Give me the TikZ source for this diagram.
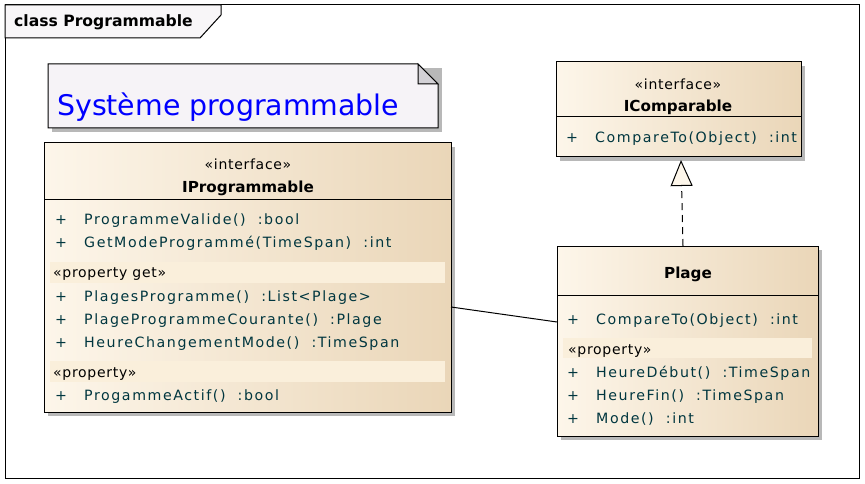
\documentclass[tikz,border=0pt]{standalone}
\usepackage{fontspec}
\setmainfont{DejaVu Sans}
\newfontfamily\memfont[LetterSpace=11]{DejaVu Sans}
\newfontfamily\stfont[LetterSpace=5]{DejaVu Sans}
\usetikzlibrary{arrows.meta,calc}
\definecolor{creamL}{HTML}{FDF6EA}
\definecolor{creamR}{HTML}{EAD6B8}
\definecolor{bandcol}{HTML}{FAEFDB}
\definecolor{memcol}{HTML}{00363F}
\definecolor{notefill}{HTML}{F6F3F7}
\definecolor{foldfill}{HTML}{D3D1D6}
\definecolor{tabfill}{HTML}{F8F6F8}
\definecolor{shadowcol}{HTML}{B8B8B8}
\tikzset{
  clsbox/.style={draw=black, line width=1pt, left color=creamL, right color=creamR, anchor=north west, inner sep=0, outer sep=0},
  shad/.style={fill=shadowcol, draw=none},
  divider/.style={draw=black, line width=1pt},
  band/.style={fill=bandcol, draw=none},
  mem/.style={anchor=base west, text=memcol, font=\memfont\fontsize{14.2}{16}\selectfont, inner sep=0},
  plus/.style={anchor=base west, text=memcol, font=\fontsize{14.2}{16}\selectfont, inner sep=0},
  stereo/.style={anchor=base, text=black, font=\stfont\fontsize{14}{16}\selectfont, inner sep=0},
  bandtxt/.style={anchor=base west, text=black, font=\stfont\fontsize{14}{16}\selectfont, inner sep=0},
  clsname/.style={anchor=base, text=black, font=\bfseries\fontsize{15.2}{17}\selectfont, inner sep=0},
}
\begin{document}
\begin{tikzpicture}[x=1pt, y=-1pt]
\useasboundingbox (0,0) rectangle (865,484);
\fill[white] (0,0) rectangle (865,484);
% frame
\draw[line width=1pt] (5,5) rectangle (859,478);
\draw[line width=1pt, fill=tabfill] (5,5) -- (221,5) -- (221,15) -- (200,38) -- (5,38) -- cycle;
\node[anchor=base west, inner sep=0, font=\bfseries\fontsize{15.6}{17}\selectfont] (frametitle) at (14,27) {class Programmable};
% note
\fill[shadowcol] (52,68) rectangle (442,132);
\draw[line width=1pt, fill=notefill] (48,64) -- (418,64) -- (438,84) -- (438,128) -- (48,128) -- cycle;
\draw[line width=1pt, fill=foldfill] (418,64) -- (418,84) -- (438,84) -- cycle;
\node[anchor=base west, inner sep=0, text={rgb,255:red,0;green,0;blue,255}, font=\fontsize{28.4}{32}\selectfont] (notetext) at (57,116) {Système programmable};
% IProgrammable
\fill[shad] (48,147) rectangle (455,416);
\node[clsbox, minimum width=407pt, minimum height=269pt] (iprog) at (44,143) {};
\draw[divider] (44,199) -- (451,199);
\fill[band] (50,262) rectangle (445,283);
\fill[band] (50,361) rectangle (445,382);
\node[stereo] (ip-st) at (248,169) {«interface»};
\node[clsname] (ip-nm) at (248,193) {IProgrammable};
\node[plus] (ip-p1) at (55,224) {+};
\node[mem] (ip-m1) at (84,224) {ProgrammeValide()\ \ :bool};
\node[plus] (ip-p2) at (55,247) {+};
\node[mem] (ip-m2) at (84,247) {GetModeProgrammé(TimeSpan)\ \ :int};
\node[bandtxt] (ip-b1) at (53,277) {«property get»};
\node[plus] (ip-p3) at (55,301) {+};
\node[mem] (ip-m3) at (84,301) {PlagesProgramme()\ \ :List<Plage>};
\node[plus] (ip-p4) at (55,324) {+};
\node[mem] (ip-m4) at (84,324) {PlageProgrammeCourante()\ \ :Plage};
\node[plus] (ip-p5) at (55,347) {+};
\node[mem] (ip-m5) at (84,347) {HeureChangementMode()\ \ :TimeSpan};
\node[bandtxt] (ip-b2) at (53,377) {«property»};
\node[plus] (ip-p6) at (55,400) {+};
\node[mem] (ip-m6) at (84,400) {ProgammeActif()\ \ :bool};
% IComparable
\fill[shad] (560,66) rectangle (805,161);
\node[clsbox, minimum width=245pt, minimum height=95pt] (icomp) at (556,62) {};
\draw[divider] (556,117) -- (801,117);
\node[stereo] (ic-st) at (678,90) {«interface»};
\node[clsname] (ic-nm) at (678,112) {IComparable};
\node[plus] (ic-p1) at (566,143) {+};
\node[mem] (ic-m1) at (595,143) {CompareTo(Object)\ \ :int};
% Plage
\fill[shad] (561,250) rectangle (822,440);
\node[clsbox, minimum width=261pt, minimum height=190pt] (plage) at (557,246) {};
\draw[divider] (557,295) -- (818,295);
\fill[band] (563,338) rectangle (812,358);
\node[clsname] (pl-nm) at (688,278) {Plage};
\node[plus] (pl-p1) at (567,324) {+};
\node[mem] (pl-m1) at (596,324) {CompareTo(Object)\ \ :int};
\node[bandtxt] (pl-b1) at (568,354) {«property»};
\node[plus] (pl-p2) at (567,377) {+};
\node[mem] (pl-m2) at (596,377) {HeureDébut()\ \ :TimeSpan};
\node[plus] (pl-p3) at (567,400) {+};
\node[mem] (pl-m3) at (596,400) {HeureFin()\ \ :TimeSpan};
\node[plus] (pl-p4) at (567,423) {+};
\node[mem] (pl-m4) at (596,423) {Mode()\ \ :int};
% connectors
\draw[line width=1pt] ($(iprog.north east)+(0,164)$) -- ($(plage.north west)+(0,76)$);
\draw[line width=1pt, dash pattern=on 7pt off 5pt, -{Triangle[open, length=26pt, width=22pt, fill=creamL, line width=1pt]}]
  ($(plage.north west)+(126,0)$) -- ($(icomp.south west)+(125,3)$);
\end{tikzpicture}
\end{document}
